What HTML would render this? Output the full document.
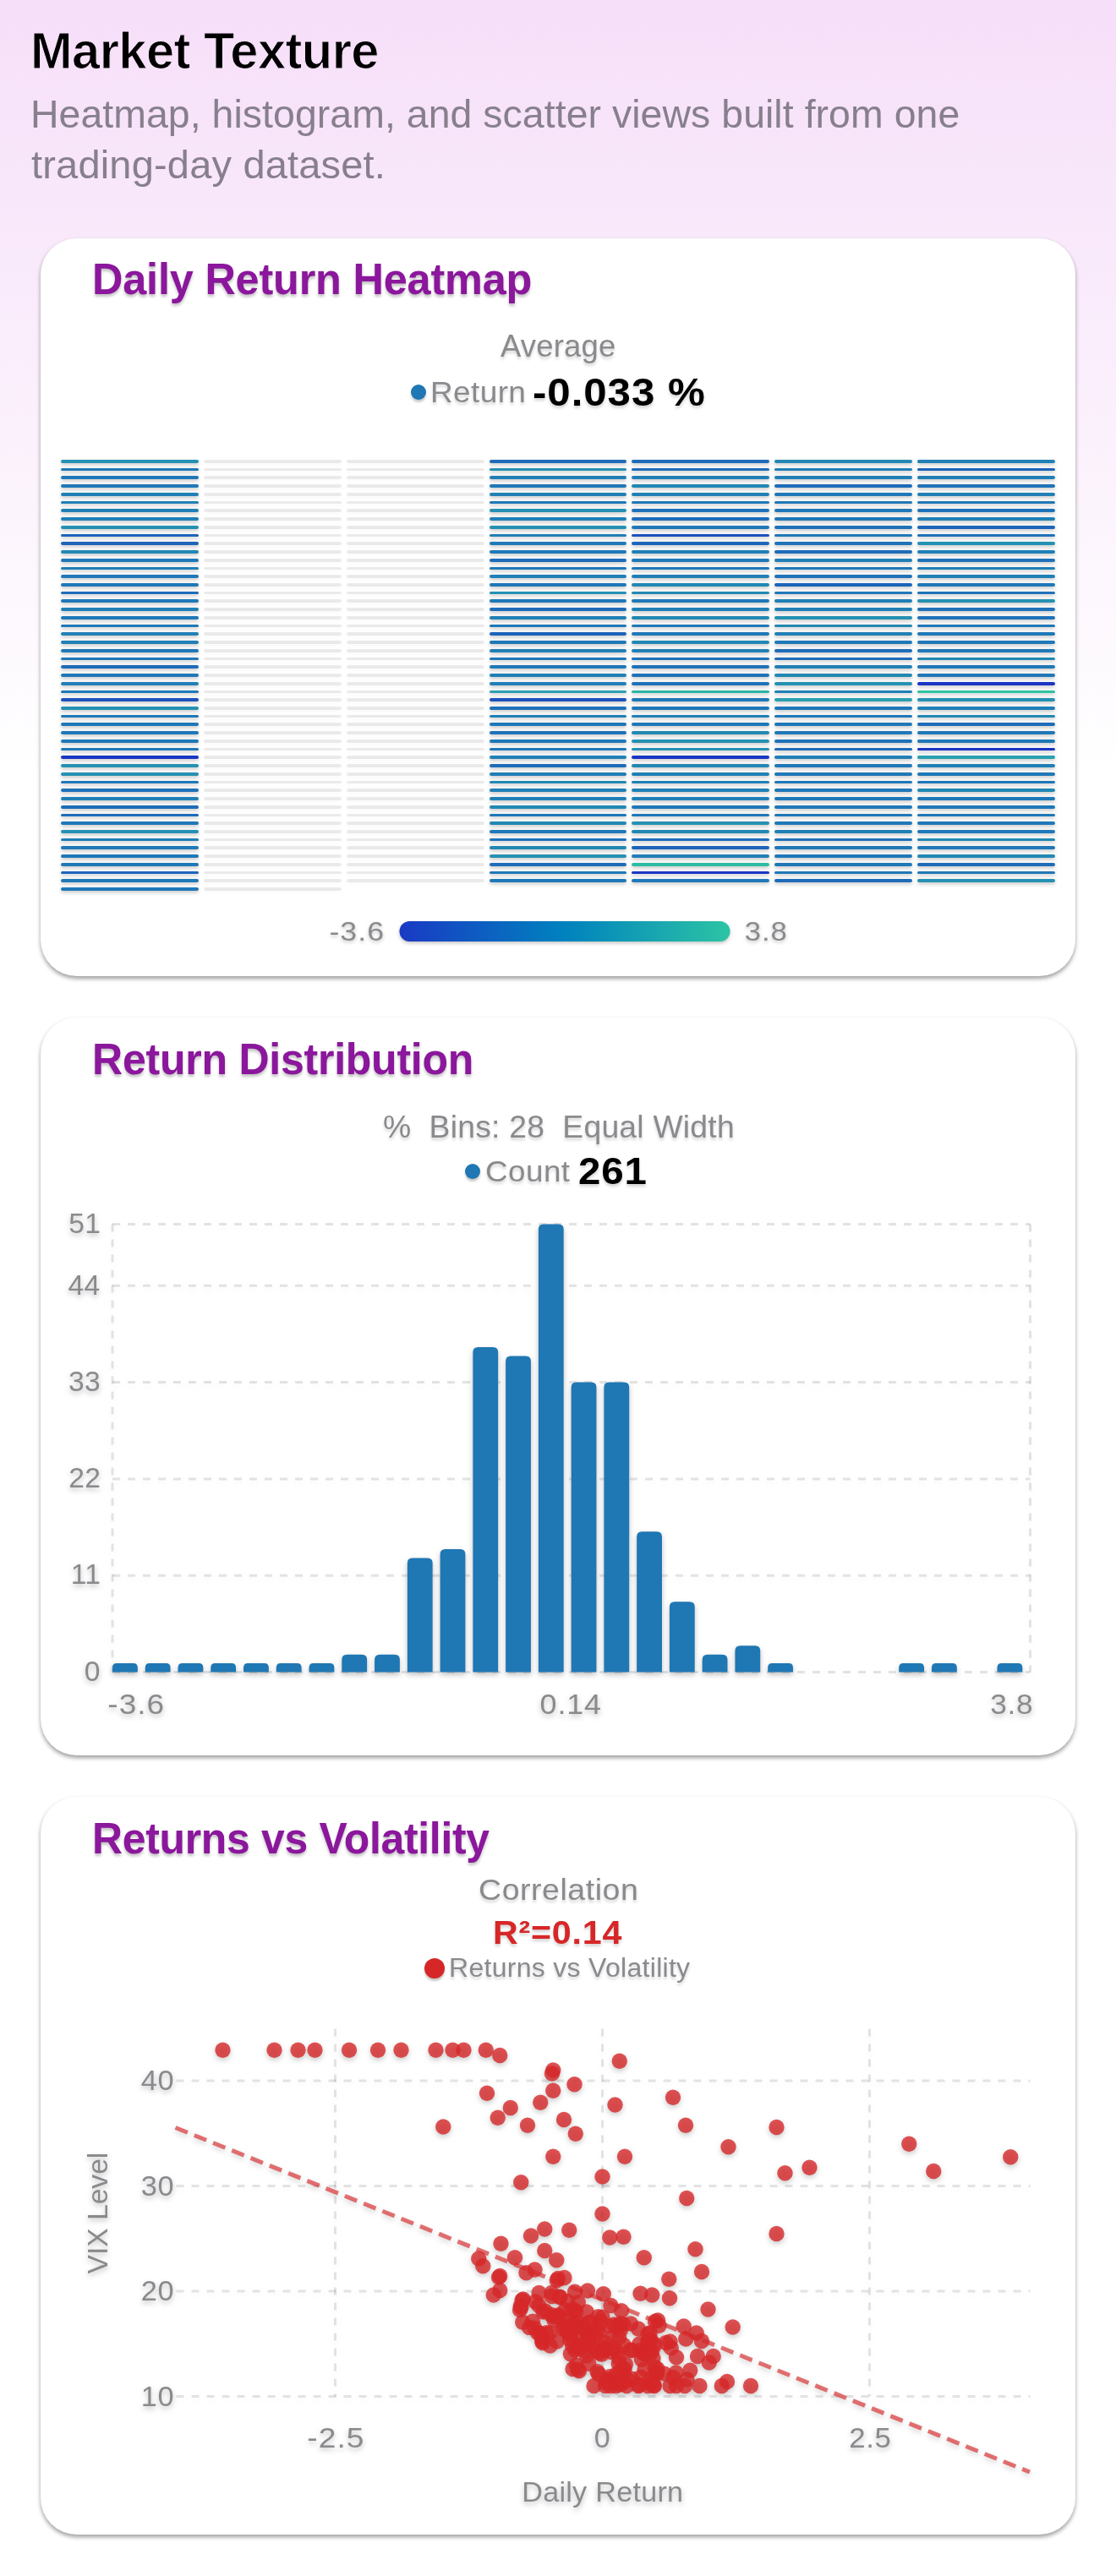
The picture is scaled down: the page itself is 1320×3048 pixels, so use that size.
<!DOCTYPE html>
<html lang="en"><head><meta charset="utf-8"><title>Market Texture</title>
<style>
html,body{margin:0;padding:0}
body{width:1320px;height:3048px;position:relative;overflow:hidden;font-family:"Liberation Sans",sans-serif;
background:linear-gradient(180deg,#f6dff9 0px,#ffffff 914px,#ffffff 3048px)}
.card{position:absolute;left:48px;width:1224px;height:873px;background:#fff;border-radius:43px;box-shadow:0 3px 5px rgba(0,0,0,.38)}
.dot{position:absolute;border-radius:50%;box-shadow:0 3px 2.5px rgba(0,0,0,.22)}
svg text{font-family:"Liberation Sans",sans-serif}
</style></head><body>
<header>
<h1 style="position:absolute;left:36.07px;top:23.00px;margin:0;font-size:62.00px;line-height:73px;font-weight:700;color:#000;letter-spacing:-0.569px;white-space:pre;transform-origin:0 0;transform:scaleX(0.9614);-webkit-text-stroke:1.1px #f7e1f9;">Market Texture</h1>
<p style="position:absolute;left:35.69px;top:107.00px;margin:0;font-size:46.10px;line-height:56px;font-weight:400;color:#877f8d;letter-spacing:0.060px;white-space:pre;transform-origin:0 0;transform:scaleX(1.0067);">Heatmap, histogram, and scatter views built from one</p>
<p style="position:absolute;left:37.29px;top:167.00px;margin:0;font-size:46.10px;line-height:56px;font-weight:400;color:#877f8d;letter-spacing:0.177px;white-space:pre;transform-origin:0 0;transform:scaleX(1.0198);">trading-day dataset.</p>
</header>
<main>
<section class="card" style="top:282px">
<h2 style="position:absolute;left:60.67px;top:18.00px;margin:0;font-size:51.30px;line-height:61px;font-weight:700;color:#8b179c;letter-spacing:-0.203px;white-space:pre;transform-origin:0 0;transform:scaleX(0.9833);text-shadow:0 3px 3.5px rgba(0,0,0,.24);">Daily Return Heatmap</h2>
<div style="position:absolute;left:544.43px;top:105.00px;margin:0;font-size:36.00px;line-height:45px;font-weight:400;color:#8a8a8e;letter-spacing:0.135px;white-space:pre;transform-origin:0 0;transform:scaleX(1.0146);text-shadow:0 3px 3.5px rgba(0,0,0,.17);">Average</div>
<span class="dot" style="left:438.25px;top:172.75px;width:18px;height:18px;background:#1f77b4"></span>
<div style="position:absolute;left:461.47px;top:160.00px;margin:0;font-size:35.30px;line-height:43px;font-weight:400;color:#8a8a8e;letter-spacing:0.385px;white-space:pre;transform-origin:0 0;transform:scaleX(1.0467);text-shadow:0 3px 3.5px rgba(0,0,0,.17);">Return</div>
<div style="position:absolute;left:582.08px;top:155.00px;margin:0;font-size:45.40px;line-height:55px;font-weight:700;color:#000;letter-spacing:0.859px;white-space:pre;transform-origin:0 0;transform:scaleX(1.0852);text-shadow:0 3px 3.5px rgba(0,0,0,.17);">-0.033 %</div>
<svg width="1224" height="873" viewBox="48 282 1224 873" style="position:absolute;left:0;top:0;overflow:visible;filter:drop-shadow(0 2.5px 2px rgba(0,0,0,.24))" font-family="Liberation Sans, sans-serif">
<rect x="72" y="544" width="163" height="4" rx="2.0" fill="#2591b2"/>
<rect x="72" y="554" width="163" height="3" rx="1.5" fill="#1f78b8"/>
<rect x="72" y="563" width="163" height="4" rx="2.0" fill="#1f78b8"/>
<rect x="72" y="573" width="163" height="4" rx="2.0" fill="#1f78b8"/>
<rect x="72" y="583" width="163" height="4" rx="2.0" fill="#2080b6"/>
<rect x="72" y="593" width="163" height="3" rx="1.5" fill="#2080b6"/>
<rect x="72" y="602" width="163" height="4" rx="2.0" fill="#2080b6"/>
<rect x="72" y="612" width="163" height="4" rx="2.0" fill="#2080b6"/>
<rect x="72" y="622" width="163" height="4" rx="2.0" fill="#2591b2"/>
<rect x="72" y="632" width="163" height="3" rx="1.5" fill="#1d64ba"/>
<rect x="72" y="641" width="163" height="4" rx="2.0" fill="#1d64ba"/>
<rect x="72" y="651" width="163" height="4" rx="2.0" fill="#2288b3"/>
<rect x="72" y="661" width="163" height="4" rx="2.0" fill="#1f78b8"/>
<rect x="72" y="671" width="163" height="3" rx="1.5" fill="#2080b6"/>
<rect x="72" y="680" width="163" height="4" rx="2.0" fill="#1f78b8"/>
<rect x="72" y="690" width="163" height="4" rx="2.0" fill="#1f78b8"/>
<rect x="72" y="700" width="163" height="3" rx="1.5" fill="#1e6cb9"/>
<rect x="72" y="709" width="163" height="4" rx="2.0" fill="#1f78b8"/>
<rect x="72" y="719" width="163" height="4" rx="2.0" fill="#2080b6"/>
<rect x="72" y="729" width="163" height="4" rx="2.0" fill="#1f78b8"/>
<rect x="72" y="739" width="163" height="3" rx="1.5" fill="#1f78b8"/>
<rect x="72" y="748" width="163" height="4" rx="2.0" fill="#2080b6"/>
<rect x="72" y="758" width="163" height="4" rx="2.0" fill="#2080b6"/>
<rect x="72" y="768" width="163" height="4" rx="2.0" fill="#1f78b8"/>
<rect x="72" y="778" width="163" height="3" rx="1.5" fill="#1f78b8"/>
<rect x="72" y="787" width="163" height="4" rx="2.0" fill="#1e6cb9"/>
<rect x="72" y="797" width="163" height="4" rx="2.0" fill="#1f78b8"/>
<rect x="72" y="807" width="163" height="4" rx="2.0" fill="#2080b6"/>
<rect x="72" y="817" width="163" height="3" rx="1.5" fill="#1f78b8"/>
<rect x="72" y="826" width="163" height="4" rx="2.0" fill="#1c52bd"/>
<rect x="72" y="836" width="163" height="4" rx="2.0" fill="#2591b2"/>
<rect x="72" y="846" width="163" height="3" rx="1.5" fill="#1f78b8"/>
<rect x="72" y="855" width="163" height="4" rx="2.0" fill="#1f78b8"/>
<rect x="72" y="865" width="163" height="4" rx="2.0" fill="#1f78b8"/>
<rect x="72" y="875" width="163" height="4" rx="2.0" fill="#1f78b8"/>
<rect x="72" y="885" width="163" height="3" rx="1.5" fill="#1f78b8"/>
<rect x="72" y="894" width="163" height="4" rx="2.0" fill="#1a36c4"/>
<rect x="72" y="904" width="163" height="4" rx="2.0" fill="#2591b2"/>
<rect x="72" y="914" width="163" height="4" rx="2.0" fill="#2591b2"/>
<rect x="72" y="924" width="163" height="3" rx="1.5" fill="#1f78b8"/>
<rect x="72" y="933" width="163" height="4" rx="2.0" fill="#1f72b9"/>
<rect x="72" y="943" width="163" height="4" rx="2.0" fill="#2080b6"/>
<rect x="72" y="953" width="163" height="4" rx="2.0" fill="#1e6cb9"/>
<rect x="72" y="963" width="163" height="3" rx="1.5" fill="#1e6cb9"/>
<rect x="72" y="972" width="163" height="4" rx="2.0" fill="#1f78b8"/>
<rect x="72" y="982" width="163" height="4" rx="2.0" fill="#2591b2"/>
<rect x="72" y="992" width="163" height="3" rx="1.5" fill="#2080b6"/>
<rect x="72" y="1001" width="163" height="4" rx="2.0" fill="#1f78b8"/>
<rect x="72" y="1011" width="163" height="4" rx="2.0" fill="#1f78b8"/>
<rect x="72" y="1021" width="163" height="4" rx="2.0" fill="#1f78b8"/>
<rect x="72" y="1031" width="163" height="3" rx="1.5" fill="#1d64ba"/>
<rect x="72" y="1040" width="163" height="4" rx="2.0" fill="#1f78b8"/>
<rect x="72" y="1050" width="163" height="4" rx="2.0" fill="#1f78b8"/>
<rect x="241" y="544" width="163" height="4" rx="2.0" fill="#000" fill-opacity=".08"/>
<rect x="241" y="554" width="163" height="3" rx="1.5" fill="#000" fill-opacity=".08"/>
<rect x="241" y="563" width="163" height="4" rx="2.0" fill="#000" fill-opacity=".08"/>
<rect x="241" y="573" width="163" height="4" rx="2.0" fill="#000" fill-opacity=".08"/>
<rect x="241" y="583" width="163" height="4" rx="2.0" fill="#000" fill-opacity=".08"/>
<rect x="241" y="593" width="163" height="3" rx="1.5" fill="#000" fill-opacity=".08"/>
<rect x="241" y="602" width="163" height="4" rx="2.0" fill="#000" fill-opacity=".08"/>
<rect x="241" y="612" width="163" height="4" rx="2.0" fill="#000" fill-opacity=".08"/>
<rect x="241" y="622" width="163" height="4" rx="2.0" fill="#000" fill-opacity=".08"/>
<rect x="241" y="632" width="163" height="3" rx="1.5" fill="#000" fill-opacity=".08"/>
<rect x="241" y="641" width="163" height="4" rx="2.0" fill="#000" fill-opacity=".08"/>
<rect x="241" y="651" width="163" height="4" rx="2.0" fill="#000" fill-opacity=".08"/>
<rect x="241" y="661" width="163" height="4" rx="2.0" fill="#000" fill-opacity=".08"/>
<rect x="241" y="671" width="163" height="3" rx="1.5" fill="#000" fill-opacity=".08"/>
<rect x="241" y="680" width="163" height="4" rx="2.0" fill="#000" fill-opacity=".08"/>
<rect x="241" y="690" width="163" height="4" rx="2.0" fill="#000" fill-opacity=".08"/>
<rect x="241" y="700" width="163" height="3" rx="1.5" fill="#000" fill-opacity=".08"/>
<rect x="241" y="709" width="163" height="4" rx="2.0" fill="#000" fill-opacity=".08"/>
<rect x="241" y="719" width="163" height="4" rx="2.0" fill="#000" fill-opacity=".08"/>
<rect x="241" y="729" width="163" height="4" rx="2.0" fill="#000" fill-opacity=".08"/>
<rect x="241" y="739" width="163" height="3" rx="1.5" fill="#000" fill-opacity=".08"/>
<rect x="241" y="748" width="163" height="4" rx="2.0" fill="#000" fill-opacity=".08"/>
<rect x="241" y="758" width="163" height="4" rx="2.0" fill="#000" fill-opacity=".08"/>
<rect x="241" y="768" width="163" height="4" rx="2.0" fill="#000" fill-opacity=".08"/>
<rect x="241" y="778" width="163" height="3" rx="1.5" fill="#000" fill-opacity=".08"/>
<rect x="241" y="787" width="163" height="4" rx="2.0" fill="#000" fill-opacity=".08"/>
<rect x="241" y="797" width="163" height="4" rx="2.0" fill="#000" fill-opacity=".08"/>
<rect x="241" y="807" width="163" height="4" rx="2.0" fill="#000" fill-opacity=".08"/>
<rect x="241" y="817" width="163" height="3" rx="1.5" fill="#000" fill-opacity=".08"/>
<rect x="241" y="826" width="163" height="4" rx="2.0" fill="#000" fill-opacity=".08"/>
<rect x="241" y="836" width="163" height="4" rx="2.0" fill="#000" fill-opacity=".08"/>
<rect x="241" y="846" width="163" height="3" rx="1.5" fill="#000" fill-opacity=".08"/>
<rect x="241" y="855" width="163" height="4" rx="2.0" fill="#000" fill-opacity=".08"/>
<rect x="241" y="865" width="163" height="4" rx="2.0" fill="#000" fill-opacity=".08"/>
<rect x="241" y="875" width="163" height="4" rx="2.0" fill="#000" fill-opacity=".08"/>
<rect x="241" y="885" width="163" height="3" rx="1.5" fill="#000" fill-opacity=".08"/>
<rect x="241" y="894" width="163" height="4" rx="2.0" fill="#000" fill-opacity=".08"/>
<rect x="241" y="904" width="163" height="4" rx="2.0" fill="#000" fill-opacity=".08"/>
<rect x="241" y="914" width="163" height="4" rx="2.0" fill="#000" fill-opacity=".08"/>
<rect x="241" y="924" width="163" height="3" rx="1.5" fill="#000" fill-opacity=".08"/>
<rect x="241" y="933" width="163" height="4" rx="2.0" fill="#000" fill-opacity=".08"/>
<rect x="241" y="943" width="163" height="4" rx="2.0" fill="#000" fill-opacity=".08"/>
<rect x="241" y="953" width="163" height="4" rx="2.0" fill="#000" fill-opacity=".08"/>
<rect x="241" y="963" width="163" height="3" rx="1.5" fill="#000" fill-opacity=".08"/>
<rect x="241" y="972" width="163" height="4" rx="2.0" fill="#000" fill-opacity=".08"/>
<rect x="241" y="982" width="163" height="4" rx="2.0" fill="#000" fill-opacity=".08"/>
<rect x="241" y="992" width="163" height="3" rx="1.5" fill="#000" fill-opacity=".08"/>
<rect x="241" y="1001" width="163" height="4" rx="2.0" fill="#000" fill-opacity=".08"/>
<rect x="241" y="1011" width="163" height="4" rx="2.0" fill="#000" fill-opacity=".08"/>
<rect x="241" y="1021" width="163" height="4" rx="2.0" fill="#000" fill-opacity=".08"/>
<rect x="241" y="1031" width="163" height="3" rx="1.5" fill="#000" fill-opacity=".08"/>
<rect x="241" y="1040" width="163" height="4" rx="2.0" fill="#000" fill-opacity=".08"/>
<rect x="241" y="1050" width="163" height="4" rx="2.0" fill="#000" fill-opacity=".08"/>
<rect x="410" y="544" width="163" height="4" rx="2.0" fill="#000" fill-opacity=".08"/>
<rect x="410" y="554" width="163" height="3" rx="1.5" fill="#000" fill-opacity=".08"/>
<rect x="410" y="563" width="163" height="4" rx="2.0" fill="#000" fill-opacity=".08"/>
<rect x="410" y="573" width="163" height="4" rx="2.0" fill="#000" fill-opacity=".08"/>
<rect x="410" y="583" width="163" height="4" rx="2.0" fill="#000" fill-opacity=".08"/>
<rect x="410" y="593" width="163" height="3" rx="1.5" fill="#000" fill-opacity=".08"/>
<rect x="410" y="602" width="163" height="4" rx="2.0" fill="#000" fill-opacity=".08"/>
<rect x="410" y="612" width="163" height="4" rx="2.0" fill="#000" fill-opacity=".08"/>
<rect x="410" y="622" width="163" height="4" rx="2.0" fill="#000" fill-opacity=".08"/>
<rect x="410" y="632" width="163" height="3" rx="1.5" fill="#000" fill-opacity=".08"/>
<rect x="410" y="641" width="163" height="4" rx="2.0" fill="#000" fill-opacity=".08"/>
<rect x="410" y="651" width="163" height="4" rx="2.0" fill="#000" fill-opacity=".08"/>
<rect x="410" y="661" width="163" height="4" rx="2.0" fill="#000" fill-opacity=".08"/>
<rect x="410" y="671" width="163" height="3" rx="1.5" fill="#000" fill-opacity=".08"/>
<rect x="410" y="680" width="163" height="4" rx="2.0" fill="#000" fill-opacity=".08"/>
<rect x="410" y="690" width="163" height="4" rx="2.0" fill="#000" fill-opacity=".08"/>
<rect x="410" y="700" width="163" height="3" rx="1.5" fill="#000" fill-opacity=".08"/>
<rect x="410" y="709" width="163" height="4" rx="2.0" fill="#000" fill-opacity=".08"/>
<rect x="410" y="719" width="163" height="4" rx="2.0" fill="#000" fill-opacity=".08"/>
<rect x="410" y="729" width="163" height="4" rx="2.0" fill="#000" fill-opacity=".08"/>
<rect x="410" y="739" width="163" height="3" rx="1.5" fill="#000" fill-opacity=".08"/>
<rect x="410" y="748" width="163" height="4" rx="2.0" fill="#000" fill-opacity=".08"/>
<rect x="410" y="758" width="163" height="4" rx="2.0" fill="#000" fill-opacity=".08"/>
<rect x="410" y="768" width="163" height="4" rx="2.0" fill="#000" fill-opacity=".08"/>
<rect x="410" y="778" width="163" height="3" rx="1.5" fill="#000" fill-opacity=".08"/>
<rect x="410" y="787" width="163" height="4" rx="2.0" fill="#000" fill-opacity=".08"/>
<rect x="410" y="797" width="163" height="4" rx="2.0" fill="#000" fill-opacity=".08"/>
<rect x="410" y="807" width="163" height="4" rx="2.0" fill="#000" fill-opacity=".08"/>
<rect x="410" y="817" width="163" height="3" rx="1.5" fill="#000" fill-opacity=".08"/>
<rect x="410" y="826" width="163" height="4" rx="2.0" fill="#000" fill-opacity=".08"/>
<rect x="410" y="836" width="163" height="4" rx="2.0" fill="#000" fill-opacity=".08"/>
<rect x="410" y="846" width="163" height="3" rx="1.5" fill="#000" fill-opacity=".08"/>
<rect x="410" y="855" width="163" height="4" rx="2.0" fill="#000" fill-opacity=".08"/>
<rect x="410" y="865" width="163" height="4" rx="2.0" fill="#000" fill-opacity=".08"/>
<rect x="410" y="875" width="163" height="4" rx="2.0" fill="#000" fill-opacity=".08"/>
<rect x="410" y="885" width="163" height="3" rx="1.5" fill="#000" fill-opacity=".08"/>
<rect x="410" y="894" width="163" height="4" rx="2.0" fill="#000" fill-opacity=".08"/>
<rect x="410" y="904" width="163" height="4" rx="2.0" fill="#000" fill-opacity=".08"/>
<rect x="410" y="914" width="163" height="4" rx="2.0" fill="#000" fill-opacity=".08"/>
<rect x="410" y="924" width="163" height="3" rx="1.5" fill="#000" fill-opacity=".08"/>
<rect x="410" y="933" width="163" height="4" rx="2.0" fill="#000" fill-opacity=".08"/>
<rect x="410" y="943" width="163" height="4" rx="2.0" fill="#000" fill-opacity=".08"/>
<rect x="410" y="953" width="163" height="4" rx="2.0" fill="#000" fill-opacity=".08"/>
<rect x="410" y="963" width="163" height="3" rx="1.5" fill="#000" fill-opacity=".08"/>
<rect x="410" y="972" width="163" height="4" rx="2.0" fill="#000" fill-opacity=".08"/>
<rect x="410" y="982" width="163" height="4" rx="2.0" fill="#000" fill-opacity=".08"/>
<rect x="410" y="992" width="163" height="3" rx="1.5" fill="#000" fill-opacity=".08"/>
<rect x="410" y="1001" width="163" height="4" rx="2.0" fill="#000" fill-opacity=".08"/>
<rect x="410" y="1011" width="163" height="4" rx="2.0" fill="#000" fill-opacity=".08"/>
<rect x="410" y="1021" width="163" height="4" rx="2.0" fill="#000" fill-opacity=".08"/>
<rect x="410" y="1031" width="163" height="3" rx="1.5" fill="#000" fill-opacity=".08"/>
<rect x="410" y="1040" width="163" height="4" rx="2.0" fill="#000" fill-opacity=".08"/>
<rect x="579" y="544" width="162" height="4" rx="2.0" fill="#1e6cb9"/>
<rect x="579" y="554" width="162" height="3" rx="1.5" fill="#2591b2"/>
<rect x="579" y="563" width="162" height="4" rx="2.0" fill="#2080b6"/>
<rect x="579" y="573" width="162" height="4" rx="2.0" fill="#1f78b8"/>
<rect x="579" y="583" width="162" height="4" rx="2.0" fill="#2080b6"/>
<rect x="579" y="593" width="162" height="3" rx="1.5" fill="#1f78b8"/>
<rect x="579" y="602" width="162" height="4" rx="2.0" fill="#2591b2"/>
<rect x="579" y="612" width="162" height="4" rx="2.0" fill="#2080b6"/>
<rect x="579" y="622" width="162" height="4" rx="2.0" fill="#2591b2"/>
<rect x="579" y="632" width="162" height="3" rx="1.5" fill="#2080b6"/>
<rect x="579" y="641" width="162" height="4" rx="2.0" fill="#1f78b8"/>
<rect x="579" y="651" width="162" height="4" rx="2.0" fill="#1f78b8"/>
<rect x="579" y="661" width="162" height="4" rx="2.0" fill="#1e6cb9"/>
<rect x="579" y="671" width="162" height="3" rx="1.5" fill="#1f78b8"/>
<rect x="579" y="680" width="162" height="4" rx="2.0" fill="#2080b6"/>
<rect x="579" y="690" width="162" height="4" rx="2.0" fill="#1f78b8"/>
<rect x="579" y="700" width="162" height="3" rx="1.5" fill="#2591b2"/>
<rect x="579" y="709" width="162" height="4" rx="2.0" fill="#1f78b8"/>
<rect x="579" y="719" width="162" height="4" rx="2.0" fill="#1e6cb9"/>
<rect x="579" y="729" width="162" height="4" rx="2.0" fill="#2080b6"/>
<rect x="579" y="739" width="162" height="3" rx="1.5" fill="#1f78b8"/>
<rect x="579" y="748" width="162" height="4" rx="2.0" fill="#1d64ba"/>
<rect x="579" y="758" width="162" height="4" rx="2.0" fill="#1f78b8"/>
<rect x="579" y="768" width="162" height="4" rx="2.0" fill="#2080b6"/>
<rect x="579" y="778" width="162" height="3" rx="1.5" fill="#1f78b8"/>
<rect x="579" y="787" width="162" height="4" rx="2.0" fill="#1f78b8"/>
<rect x="579" y="797" width="162" height="4" rx="2.0" fill="#2080b6"/>
<rect x="579" y="807" width="162" height="4" rx="2.0" fill="#2080b6"/>
<rect x="579" y="817" width="162" height="3" rx="1.5" fill="#2aa0b0"/>
<rect x="579" y="826" width="162" height="4" rx="2.0" fill="#1c52bd"/>
<rect x="579" y="836" width="162" height="4" rx="2.0" fill="#1f72b9"/>
<rect x="579" y="846" width="162" height="3" rx="1.5" fill="#2080b6"/>
<rect x="579" y="855" width="162" height="4" rx="2.0" fill="#1f78b8"/>
<rect x="579" y="865" width="162" height="4" rx="2.0" fill="#1f72b9"/>
<rect x="579" y="875" width="162" height="4" rx="2.0" fill="#1f78b8"/>
<rect x="579" y="885" width="162" height="3" rx="1.5" fill="#1f78b8"/>
<rect x="579" y="894" width="162" height="4" rx="2.0" fill="#2080b6"/>
<rect x="579" y="904" width="162" height="4" rx="2.0" fill="#1e6cb9"/>
<rect x="579" y="914" width="162" height="4" rx="2.0" fill="#2080b6"/>
<rect x="579" y="924" width="162" height="3" rx="1.5" fill="#2288b3"/>
<rect x="579" y="933" width="162" height="4" rx="2.0" fill="#2080b6"/>
<rect x="579" y="943" width="162" height="4" rx="2.0" fill="#2080b6"/>
<rect x="579" y="953" width="162" height="4" rx="2.0" fill="#2288b3"/>
<rect x="579" y="963" width="162" height="3" rx="1.5" fill="#1f78b8"/>
<rect x="579" y="972" width="162" height="4" rx="2.0" fill="#2288b3"/>
<rect x="579" y="982" width="162" height="4" rx="2.0" fill="#1f78b8"/>
<rect x="579" y="992" width="162" height="3" rx="1.5" fill="#1f72b9"/>
<rect x="579" y="1001" width="162" height="4" rx="2.0" fill="#2288b3"/>
<rect x="579" y="1011" width="162" height="4" rx="2.0" fill="#2591b2"/>
<rect x="579" y="1021" width="162" height="4" rx="2.0" fill="#1e6cb9"/>
<rect x="579" y="1031" width="162" height="3" rx="1.5" fill="#1f78b8"/>
<rect x="579" y="1040" width="162" height="4" rx="2.0" fill="#1f78b8"/>
<rect x="747" y="544" width="163" height="4" rx="2.0" fill="#1e6cb9"/>
<rect x="747" y="554" width="163" height="3" rx="1.5" fill="#1e6cb9"/>
<rect x="747" y="563" width="163" height="4" rx="2.0" fill="#2080b6"/>
<rect x="747" y="573" width="163" height="4" rx="2.0" fill="#2288b3"/>
<rect x="747" y="583" width="163" height="4" rx="2.0" fill="#2080b6"/>
<rect x="747" y="593" width="163" height="3" rx="1.5" fill="#1f78b8"/>
<rect x="747" y="602" width="163" height="4" rx="2.0" fill="#1f72b9"/>
<rect x="747" y="612" width="163" height="4" rx="2.0" fill="#1e6cb9"/>
<rect x="747" y="622" width="163" height="4" rx="2.0" fill="#1f78b8"/>
<rect x="747" y="632" width="163" height="3" rx="1.5" fill="#1c52bd"/>
<rect x="747" y="641" width="163" height="4" rx="2.0" fill="#1d64ba"/>
<rect x="747" y="651" width="163" height="4" rx="2.0" fill="#2080b6"/>
<rect x="747" y="661" width="163" height="4" rx="2.0" fill="#1f78b8"/>
<rect x="747" y="671" width="163" height="3" rx="1.5" fill="#1f78b8"/>
<rect x="747" y="680" width="163" height="4" rx="2.0" fill="#2080b6"/>
<rect x="747" y="690" width="163" height="4" rx="2.0" fill="#2288b3"/>
<rect x="747" y="700" width="163" height="3" rx="1.5" fill="#2288b3"/>
<rect x="747" y="709" width="163" height="4" rx="2.0" fill="#1f78b8"/>
<rect x="747" y="719" width="163" height="4" rx="2.0" fill="#2080b6"/>
<rect x="747" y="729" width="163" height="4" rx="2.0" fill="#2288b3"/>
<rect x="747" y="739" width="163" height="3" rx="1.5" fill="#1f78b8"/>
<rect x="747" y="748" width="163" height="4" rx="2.0" fill="#1f78b8"/>
<rect x="747" y="758" width="163" height="4" rx="2.0" fill="#2288b3"/>
<rect x="747" y="768" width="163" height="4" rx="2.0" fill="#2080b6"/>
<rect x="747" y="778" width="163" height="3" rx="1.5" fill="#1f72b9"/>
<rect x="747" y="787" width="163" height="4" rx="2.0" fill="#1f72b9"/>
<rect x="747" y="797" width="163" height="4" rx="2.0" fill="#1f72b9"/>
<rect x="747" y="807" width="163" height="4" rx="2.0" fill="#1f72b9"/>
<rect x="747" y="817" width="163" height="3" rx="1.5" fill="#2ab4a6"/>
<rect x="747" y="826" width="163" height="4" rx="2.0" fill="#1f78b8"/>
<rect x="747" y="836" width="163" height="4" rx="2.0" fill="#1f78b8"/>
<rect x="747" y="846" width="163" height="3" rx="1.5" fill="#2080b6"/>
<rect x="747" y="855" width="163" height="4" rx="2.0" fill="#1f78b8"/>
<rect x="747" y="865" width="163" height="4" rx="2.0" fill="#2288b3"/>
<rect x="747" y="875" width="163" height="4" rx="2.0" fill="#2591b2"/>
<rect x="747" y="885" width="163" height="3" rx="1.5" fill="#2591b2"/>
<rect x="747" y="894" width="163" height="4" rx="2.0" fill="#1a36c4"/>
<rect x="747" y="904" width="163" height="4" rx="2.0" fill="#2288b3"/>
<rect x="747" y="914" width="163" height="4" rx="2.0" fill="#2080b6"/>
<rect x="747" y="924" width="163" height="3" rx="1.5" fill="#2080b6"/>
<rect x="747" y="933" width="163" height="4" rx="2.0" fill="#2080b6"/>
<rect x="747" y="943" width="163" height="4" rx="2.0" fill="#2080b6"/>
<rect x="747" y="953" width="163" height="4" rx="2.0" fill="#1f78b8"/>
<rect x="747" y="963" width="163" height="3" rx="1.5" fill="#1f78b8"/>
<rect x="747" y="972" width="163" height="4" rx="2.0" fill="#2591b2"/>
<rect x="747" y="982" width="163" height="4" rx="2.0" fill="#2288b3"/>
<rect x="747" y="992" width="163" height="3" rx="1.5" fill="#1e6cb9"/>
<rect x="747" y="1001" width="163" height="4" rx="2.0" fill="#1d64ba"/>
<rect x="747" y="1011" width="163" height="4" rx="2.0" fill="#2080b6"/>
<rect x="747" y="1021" width="163" height="4" rx="2.0" fill="#2bbda3"/>
<rect x="747" y="1031" width="163" height="3" rx="1.5" fill="#1a36c4"/>
<rect x="747" y="1040" width="163" height="4" rx="2.0" fill="#1f78b8"/>
<rect x="916" y="544" width="163" height="4" rx="2.0" fill="#2288b3"/>
<rect x="916" y="554" width="163" height="3" rx="1.5" fill="#2080b6"/>
<rect x="916" y="563" width="163" height="4" rx="2.0" fill="#2080b6"/>
<rect x="916" y="573" width="163" height="4" rx="2.0" fill="#1e6cb9"/>
<rect x="916" y="583" width="163" height="4" rx="2.0" fill="#1f78b8"/>
<rect x="916" y="593" width="163" height="3" rx="1.5" fill="#1f78b8"/>
<rect x="916" y="602" width="163" height="4" rx="2.0" fill="#1f78b8"/>
<rect x="916" y="612" width="163" height="4" rx="2.0" fill="#1f78b8"/>
<rect x="916" y="622" width="163" height="4" rx="2.0" fill="#1f72b9"/>
<rect x="916" y="632" width="163" height="3" rx="1.5" fill="#1f78b8"/>
<rect x="916" y="641" width="163" height="4" rx="2.0" fill="#1f72b9"/>
<rect x="916" y="651" width="163" height="4" rx="2.0" fill="#1e6cb9"/>
<rect x="916" y="661" width="163" height="4" rx="2.0" fill="#2080b6"/>
<rect x="916" y="671" width="163" height="3" rx="1.5" fill="#1f78b8"/>
<rect x="916" y="680" width="163" height="4" rx="2.0" fill="#1f72b9"/>
<rect x="916" y="690" width="163" height="4" rx="2.0" fill="#1d64ba"/>
<rect x="916" y="700" width="163" height="3" rx="1.5" fill="#1f78b8"/>
<rect x="916" y="709" width="163" height="4" rx="2.0" fill="#2080b6"/>
<rect x="916" y="719" width="163" height="4" rx="2.0" fill="#2080b6"/>
<rect x="916" y="729" width="163" height="4" rx="2.0" fill="#2591b2"/>
<rect x="916" y="739" width="163" height="3" rx="1.5" fill="#2288b3"/>
<rect x="916" y="748" width="163" height="4" rx="2.0" fill="#2080b6"/>
<rect x="916" y="758" width="163" height="4" rx="2.0" fill="#1f78b8"/>
<rect x="916" y="768" width="163" height="4" rx="2.0" fill="#1e6cb9"/>
<rect x="916" y="778" width="163" height="3" rx="1.5" fill="#1e6cb9"/>
<rect x="916" y="787" width="163" height="4" rx="2.0" fill="#2080b6"/>
<rect x="916" y="797" width="163" height="4" rx="2.0" fill="#2288b3"/>
<rect x="916" y="807" width="163" height="4" rx="2.0" fill="#2591b2"/>
<rect x="916" y="817" width="163" height="3" rx="1.5" fill="#2080b6"/>
<rect x="916" y="826" width="163" height="4" rx="2.0" fill="#2aa0b0"/>
<rect x="916" y="836" width="163" height="4" rx="2.0" fill="#1f78b8"/>
<rect x="916" y="846" width="163" height="3" rx="1.5" fill="#1f78b8"/>
<rect x="916" y="855" width="163" height="4" rx="2.0" fill="#1f78b8"/>
<rect x="916" y="865" width="163" height="4" rx="2.0" fill="#1f78b8"/>
<rect x="916" y="875" width="163" height="4" rx="2.0" fill="#1f72b9"/>
<rect x="916" y="885" width="163" height="3" rx="1.5" fill="#1e6cb9"/>
<rect x="916" y="894" width="163" height="4" rx="2.0" fill="#2080b6"/>
<rect x="916" y="904" width="163" height="4" rx="2.0" fill="#1f78b8"/>
<rect x="916" y="914" width="163" height="4" rx="2.0" fill="#1f78b8"/>
<rect x="916" y="924" width="163" height="3" rx="1.5" fill="#1f78b8"/>
<rect x="916" y="933" width="163" height="4" rx="2.0" fill="#1f78b8"/>
<rect x="916" y="943" width="163" height="4" rx="2.0" fill="#1f78b8"/>
<rect x="916" y="953" width="163" height="4" rx="2.0" fill="#1f78b8"/>
<rect x="916" y="963" width="163" height="3" rx="1.5" fill="#1f78b8"/>
<rect x="916" y="972" width="163" height="4" rx="2.0" fill="#1f78b8"/>
<rect x="916" y="982" width="163" height="4" rx="2.0" fill="#2080b6"/>
<rect x="916" y="992" width="163" height="3" rx="1.5" fill="#1f72b9"/>
<rect x="916" y="1001" width="163" height="4" rx="2.0" fill="#1f78b8"/>
<rect x="916" y="1011" width="163" height="4" rx="2.0" fill="#1f78b8"/>
<rect x="916" y="1021" width="163" height="4" rx="2.0" fill="#1f78b8"/>
<rect x="916" y="1031" width="163" height="3" rx="1.5" fill="#1f78b8"/>
<rect x="916" y="1040" width="163" height="4" rx="2.0" fill="#1e6cb9"/>
<rect x="1085" y="544" width="163" height="4" rx="2.0" fill="#2080b6"/>
<rect x="1085" y="554" width="163" height="3" rx="1.5" fill="#1d64ba"/>
<rect x="1085" y="563" width="163" height="4" rx="2.0" fill="#2080b6"/>
<rect x="1085" y="573" width="163" height="4" rx="2.0" fill="#1f72b9"/>
<rect x="1085" y="583" width="163" height="4" rx="2.0" fill="#2080b6"/>
<rect x="1085" y="593" width="163" height="3" rx="1.5" fill="#1f78b8"/>
<rect x="1085" y="602" width="163" height="4" rx="2.0" fill="#1f72b9"/>
<rect x="1085" y="612" width="163" height="4" rx="2.0" fill="#2080b6"/>
<rect x="1085" y="622" width="163" height="4" rx="2.0" fill="#1d64ba"/>
<rect x="1085" y="632" width="163" height="3" rx="1.5" fill="#1f72b9"/>
<rect x="1085" y="641" width="163" height="4" rx="2.0" fill="#2591b2"/>
<rect x="1085" y="651" width="163" height="4" rx="2.0" fill="#2080b6"/>
<rect x="1085" y="661" width="163" height="4" rx="2.0" fill="#1f72b9"/>
<rect x="1085" y="671" width="163" height="3" rx="1.5" fill="#2080b6"/>
<rect x="1085" y="680" width="163" height="4" rx="2.0" fill="#2080b6"/>
<rect x="1085" y="690" width="163" height="4" rx="2.0" fill="#1f78b8"/>
<rect x="1085" y="700" width="163" height="3" rx="1.5" fill="#1f72b9"/>
<rect x="1085" y="709" width="163" height="4" rx="2.0" fill="#2591b2"/>
<rect x="1085" y="719" width="163" height="4" rx="2.0" fill="#1f72b9"/>
<rect x="1085" y="729" width="163" height="4" rx="2.0" fill="#1f72b9"/>
<rect x="1085" y="739" width="163" height="3" rx="1.5" fill="#1f78b8"/>
<rect x="1085" y="748" width="163" height="4" rx="2.0" fill="#1f78b8"/>
<rect x="1085" y="758" width="163" height="4" rx="2.0" fill="#1f78b8"/>
<rect x="1085" y="768" width="163" height="4" rx="2.0" fill="#1f78b8"/>
<rect x="1085" y="778" width="163" height="3" rx="1.5" fill="#2288b3"/>
<rect x="1085" y="787" width="163" height="4" rx="2.0" fill="#1f78b8"/>
<rect x="1085" y="797" width="163" height="4" rx="2.0" fill="#1f78b8"/>
<rect x="1085" y="807" width="163" height="4" rx="2.0" fill="#1a36c4"/>
<rect x="1085" y="817" width="163" height="3" rx="1.5" fill="#2dc4a1"/>
<rect x="1085" y="826" width="163" height="4" rx="2.0" fill="#2591b2"/>
<rect x="1085" y="836" width="163" height="4" rx="2.0" fill="#2080b6"/>
<rect x="1085" y="846" width="163" height="3" rx="1.5" fill="#2288b3"/>
<rect x="1085" y="855" width="163" height="4" rx="2.0" fill="#1e6cb9"/>
<rect x="1085" y="865" width="163" height="4" rx="2.0" fill="#1f78b8"/>
<rect x="1085" y="875" width="163" height="4" rx="2.0" fill="#1f78b8"/>
<rect x="1085" y="885" width="163" height="3" rx="1.5" fill="#1a36c4"/>
<rect x="1085" y="894" width="163" height="4" rx="2.0" fill="#2aa0b0"/>
<rect x="1085" y="904" width="163" height="4" rx="2.0" fill="#2080b6"/>
<rect x="1085" y="914" width="163" height="4" rx="2.0" fill="#1f78b8"/>
<rect x="1085" y="924" width="163" height="3" rx="1.5" fill="#1f78b8"/>
<rect x="1085" y="933" width="163" height="4" rx="2.0" fill="#2288b3"/>
<rect x="1085" y="943" width="163" height="4" rx="2.0" fill="#1f78b8"/>
<rect x="1085" y="953" width="163" height="4" rx="2.0" fill="#1f78b8"/>
<rect x="1085" y="963" width="163" height="3" rx="1.5" fill="#1f78b8"/>
<rect x="1085" y="972" width="163" height="4" rx="2.0" fill="#1f78b8"/>
<rect x="1085" y="982" width="163" height="4" rx="2.0" fill="#1f78b8"/>
<rect x="1085" y="992" width="163" height="3" rx="1.5" fill="#2288b3"/>
<rect x="1085" y="1001" width="163" height="4" rx="2.0" fill="#1f78b8"/>
<rect x="1085" y="1011" width="163" height="4" rx="2.0" fill="#2288b3"/>
<rect x="1085" y="1021" width="163" height="4" rx="2.0" fill="#1e6cb9"/>
<rect x="1085" y="1031" width="163" height="3" rx="1.5" fill="#1f78b8"/>
<rect x="1085" y="1040" width="163" height="4" rx="2.0" fill="#2591b2"/>
<defs><linearGradient id="hg" x1="0" x2="1" y1="0" y2="0"><stop offset="0" stop-color="#1a3ac4"/><stop offset=".5" stop-color="#0082be"/><stop offset="1" stop-color="#2cc4a4"/></linearGradient></defs>
<rect x="472.5" y="1090" width="391" height="24" rx="12" fill="url(#hg)"/>
<text transform="translate(389.43 1113.00) scale(1.1354 1)" font-size="31.50" font-weight="400" letter-spacing="0.878" fill="#8a8a8e" xml:space="preserve">-3.6</text>
<text transform="translate(880.68 1113.00) scale(1.1064 1)" font-size="31.50" font-weight="400" letter-spacing="0.850" fill="#8a8a8e" xml:space="preserve">3.8</text>
</svg>
</section>
<section class="card" style="top:1204px">
<h2 style="position:absolute;left:60.70px;top:19.00px;margin:0;font-size:51.30px;line-height:61px;font-weight:700;color:#8b179c;letter-spacing:-0.270px;white-space:pre;transform-origin:0 0;transform:scaleX(0.9760);text-shadow:0 3px 3.5px rgba(0,0,0,.24);">Return Distribution</h2>
<div style="position:absolute;left:404.69px;top:107.00px;margin:0;font-size:36.30px;line-height:45px;font-weight:400;color:#8a8a8e;letter-spacing:0.204px;white-space:pre;transform-origin:0 0;transform:scaleX(1.0285);text-shadow:0 3px 3.5px rgba(0,0,0,.17);">%  Bins: 28  Equal Width</div>
<span class="dot" style="left:502.00px;top:173.00px;width:18px;height:18px;background:#1f77b4"></span>
<div style="position:absolute;left:526.16px;top:160.00px;margin:0;font-size:35.30px;line-height:43px;font-weight:400;color:#8a8a8e;letter-spacing:0.416px;white-space:pre;transform-origin:0 0;transform:scaleX(1.0440);text-shadow:0 3px 3.5px rgba(0,0,0,.17);">Count</div>
<div style="position:absolute;left:636.39px;top:154.00px;margin:0;font-size:45.00px;line-height:55px;font-weight:700;color:#000;letter-spacing:0.808px;white-space:pre;transform-origin:0 0;transform:scaleX(1.0550);text-shadow:0 3px 3.5px rgba(0,0,0,.17);">261</div>
<svg width="1224" height="873" viewBox="48 1204 1224 873" style="position:absolute;left:0;top:0;overflow:visible;filter:drop-shadow(0 3px 3px rgba(0,0,0,.25))" font-family="Liberation Sans, sans-serif">
<g stroke="#000" stroke-opacity=".11" stroke-width="3" stroke-dasharray="9 9" fill="none">
<line x1="133.0" y1="1448.5" x2="1218.5" y2="1448.5"/>
<line x1="133.0" y1="1521.3" x2="1218.5" y2="1521.3"/>
<line x1="133.0" y1="1635.6" x2="1218.5" y2="1635.6"/>
<line x1="133.0" y1="1749.9" x2="1218.5" y2="1749.9"/>
<line x1="133.0" y1="1864.2" x2="1218.5" y2="1864.2"/>
<line x1="133.0" y1="1978.5" x2="1218.5" y2="1978.5"/>
<line x1="133.0" y1="1448.508" x2="133.0" y2="1978.5"/>
<line x1="1218.5" y1="1448.508" x2="1218.5" y2="1978.5"/>
</g>
<path d="M133.00 1978.5V1973.30q0 -5.196 5.196 -5.196h19.408q5.196 0 5.196 5.196V1978.5z" fill="#1f77b4"/>
<path d="M171.76 1978.5V1973.30q0 -5.196 5.196 -5.196h19.408q5.196 0 5.196 5.196V1978.5z" fill="#1f77b4"/>
<path d="M210.52 1978.5V1973.30q0 -5.196 5.196 -5.196h19.408q5.196 0 5.196 5.196V1978.5z" fill="#1f77b4"/>
<path d="M249.28 1978.5V1973.30q0 -5.196 5.196 -5.196h19.408q5.196 0 5.196 5.196V1978.5z" fill="#1f77b4"/>
<path d="M288.04 1978.5V1973.30q0 -5.196 5.196 -5.196h19.408q5.196 0 5.196 5.196V1978.5z" fill="#1f77b4"/>
<path d="M326.80 1978.5V1973.30q0 -5.196 5.196 -5.196h19.408q5.196 0 5.196 5.196V1978.5z" fill="#1f77b4"/>
<path d="M365.56 1978.5V1973.30q0 -5.196 5.196 -5.196h19.408q5.196 0 5.196 5.196V1978.5z" fill="#1f77b4"/>
<path d="M404.32 1978.5V1963.72q0 -6 6 -6h17.8q6 0 6 6V1978.5z" fill="#1f77b4"/>
<path d="M443.08 1978.5V1963.72q0 -6 6 -6h17.8q6 0 6 6V1978.5z" fill="#1f77b4"/>
<path d="M481.84 1978.5V1849.40q0 -6 6 -6h17.8q6 0 6 6V1978.5z" fill="#1f77b4"/>
<path d="M520.60 1978.5V1839.01q0 -6 6 -6h17.8q6 0 6 6V1978.5z" fill="#1f77b4"/>
<path d="M559.36 1978.5V1600.00q0 -6 6 -6h17.8q6 0 6 6V1978.5z" fill="#1f77b4"/>
<path d="M598.12 1978.5V1610.39q0 -6 6 -6h17.8q6 0 6 6V1978.5z" fill="#1f77b4"/>
<path d="M636.88 1978.5V1454.51q0 -6 6 -6h17.8q6 0 6 6V1978.5z" fill="#1f77b4"/>
<path d="M675.64 1978.5V1641.56q0 -6 6 -6h17.8q6 0 6 6V1978.5z" fill="#1f77b4"/>
<path d="M714.40 1978.5V1641.56q0 -6 6 -6h17.8q6 0 6 6V1978.5z" fill="#1f77b4"/>
<path d="M753.16 1978.5V1818.23q0 -6 6 -6h17.8q6 0 6 6V1978.5z" fill="#1f77b4"/>
<path d="M791.92 1978.5V1901.36q0 -6 6 -6h17.8q6 0 6 6V1978.5z" fill="#1f77b4"/>
<path d="M830.68 1978.5V1963.72q0 -6 6 -6h17.8q6 0 6 6V1978.5z" fill="#1f77b4"/>
<path d="M869.44 1978.5V1953.32q0 -6 6 -6h17.8q6 0 6 6V1978.5z" fill="#1f77b4"/>
<path d="M908.20 1978.5V1973.30q0 -5.196 5.196 -5.196h19.408q5.196 0 5.196 5.196V1978.5z" fill="#1f77b4"/>
<path d="M1063.24 1978.5V1973.30q0 -5.196 5.196 -5.196h19.408q5.196 0 5.196 5.196V1978.5z" fill="#1f77b4"/>
<path d="M1102.00 1978.5V1973.30q0 -5.196 5.196 -5.196h19.408q5.196 0 5.196 5.196V1978.5z" fill="#1f77b4"/>
<path d="M1179.52 1978.5V1973.30q0 -5.196 5.196 -5.196h19.408q5.196 0 5.196 5.196V1978.5z" fill="#1f77b4"/>
<text transform="translate(81.15 1458.81) scale(1.0210 1)" font-size="33.00" font-weight="400" letter-spacing="0.298" fill="#8a8a8e" xml:space="preserve">51</text>
<text transform="translate(80.50 1531.55) scale(1.0210 1)" font-size="33.00" font-weight="400" letter-spacing="0.309" fill="#8a8a8e" xml:space="preserve">44</text>
<text transform="translate(80.98 1645.86) scale(1.0210 1)" font-size="33.00" font-weight="400" letter-spacing="0.300" fill="#8a8a8e" xml:space="preserve">33</text>
<text transform="translate(81.22 1760.18) scale(1.0210 1)" font-size="33.00" font-weight="400" letter-spacing="0.294" fill="#8a8a8e" xml:space="preserve">22</text>
<text transform="translate(83.67 1874.49) scale(1.0210 1)" font-size="33.00" font-weight="400" letter-spacing="0.266" fill="#8a8a8e" xml:space="preserve">11</text>
<text transform="translate(99.70 1988.80) scale(1.0210 1)" font-size="33.00" font-weight="400" letter-spacing="0.139" fill="#8a8a8e" xml:space="preserve">0</text>
<text transform="translate(127.37 2028.00) scale(1.1233 1)" font-size="33.00" font-weight="400" letter-spacing="0.847" fill="#8a8a8e" xml:space="preserve">-3.6</text>
<text transform="translate(638.60 2028.00) scale(1.0907 1)" font-size="33.00" font-weight="400" letter-spacing="0.736" fill="#8a8a8e" xml:space="preserve">0.14</text>
<text transform="translate(1171.16 2028.00) scale(1.0697 1)" font-size="33.00" font-weight="400" letter-spacing="0.603" fill="#8a8a8e" xml:space="preserve">3.8</text>
</svg>
</section>
<section class="card" style="top:2125.5px">
<h2 style="position:absolute;left:60.71px;top:19.50px;margin:0;font-size:51.30px;line-height:61px;font-weight:700;color:#8b179c;letter-spacing:-0.296px;white-space:pre;transform-origin:0 0;transform:scaleX(0.9723);text-shadow:0 3px 3.5px rgba(0,0,0,.24);">Returns vs Volatility</h2>
<div style="position:absolute;left:517.62px;top:88.50px;margin:0;font-size:35.00px;line-height:43px;font-weight:400;color:#8a8a8e;letter-spacing:0.484px;white-space:pre;transform-origin:0 0;transform:scaleX(1.0725);text-shadow:0 3px 3.5px rgba(0,0,0,.17);">Correlation</div>
<div style="position:absolute;left:534.78px;top:137.50px;margin:0;font-size:38.20px;line-height:47px;font-weight:700;color:#d62728;letter-spacing:0.707px;white-space:pre;transform-origin:0 0;transform:scaleX(1.0796);text-shadow:0 3px 3.5px rgba(0,0,0,.17);">R²=0.14</div>
<span class="dot" style="left:454.00px;top:191.00px;width:24px;height:24px;background:#d62728"></span>
<div style="position:absolute;left:483.37px;top:183.50px;margin:0;font-size:30.60px;line-height:38px;font-weight:400;color:#8a8a8e;letter-spacing:0.258px;white-space:pre;transform-origin:0 0;transform:scaleX(1.0478);text-shadow:0 3px 3.5px rgba(0,0,0,.17);">Returns vs Volatility</div>
<svg width="1224" height="873" viewBox="48 2125.5 1224 873" style="position:absolute;left:0;top:0;overflow:visible;filter:drop-shadow(0 3px 3px rgba(0,0,0,.25))" font-family="Liberation Sans, sans-serif">
<g stroke="#000" stroke-opacity=".11" stroke-width="3" stroke-dasharray="9 9" fill="none">
<line x1="208.5" y1="2461.5" x2="1218.5" y2="2461.5"/>
<line x1="208.5" y1="2586" x2="1218.5" y2="2586"/>
<line x1="208.5" y1="2710.5" x2="1218.5" y2="2710.5"/>
<line x1="208.5" y1="2835" x2="1218.5" y2="2835"/>
<line x1="396.5" y1="2400" x2="396.5" y2="2835"/>
<line x1="712.5" y1="2400" x2="712.5" y2="2835"/>
<line x1="1028.5" y1="2400" x2="1028.5" y2="2835"/>
</g>
<line x1="207.5" y1="2517" x2="1218" y2="2924.5" stroke="#d62728" stroke-opacity=".65" stroke-width="5" stroke-dasharray="15.5 8.5"/>
<g fill="#d62728" fill-opacity=".8">
<circle cx="263.5" cy="2425.3" r="9.2"/>
<circle cx="324.5" cy="2425.3" r="9.2"/>
<circle cx="352.5" cy="2425.3" r="9.2"/>
<circle cx="372.5" cy="2425.3" r="9.2"/>
<circle cx="413" cy="2425.3" r="9.2"/>
<circle cx="447" cy="2425.3" r="9.2"/>
<circle cx="474.5" cy="2425.3" r="9.2"/>
<circle cx="515.5" cy="2425.3" r="9.2"/>
<circle cx="535.5" cy="2425.3" r="9.2"/>
<circle cx="548.5" cy="2425.3" r="9.2"/>
<circle cx="574.75" cy="2425.3" r="9.2"/>
<circle cx="591.25" cy="2431.5" r="9.2"/>
<circle cx="732.75" cy="2438.25" r="9.2"/>
<circle cx="654.25" cy="2449" r="9.2"/>
<circle cx="653" cy="2453" r="9.2"/>
<circle cx="679.5" cy="2465.75" r="9.2"/>
<circle cx="654.25" cy="2473.25" r="9.2"/>
<circle cx="576" cy="2476.25" r="9.2"/>
<circle cx="639.25" cy="2487.25" r="9.2"/>
<circle cx="603.75" cy="2493.5" r="9.2"/>
<circle cx="727.5" cy="2490" r="9.2"/>
<circle cx="588.75" cy="2505.25" r="9.2"/>
<circle cx="667" cy="2507.5" r="9.2"/>
<circle cx="624" cy="2514.25" r="9.2"/>
<circle cx="524.25" cy="2516" r="9.2"/>
<circle cx="680.75" cy="2524.25" r="9.2"/>
<circle cx="654.25" cy="2551.25" r="9.2"/>
<circle cx="739" cy="2551.25" r="9.2"/>
<circle cx="712.5" cy="2575" r="9.2"/>
<circle cx="616.25" cy="2581.75" r="9.2"/>
<circle cx="712.5" cy="2619" r="9.2"/>
<circle cx="796" cy="2481.25" r="9.2"/>
<circle cx="811" cy="2514.25" r="9.2"/>
<circle cx="918.5" cy="2516.5" r="9.2"/>
<circle cx="861.5" cy="2539.75" r="9.2"/>
<circle cx="957.5" cy="2564.25" r="9.2"/>
<circle cx="928.5" cy="2570.75" r="9.2"/>
<circle cx="812.25" cy="2600.5" r="9.2"/>
<circle cx="918.5" cy="2642.5" r="9.2"/>
<circle cx="1075.25" cy="2536.25" r="9.2"/>
<circle cx="1104.25" cy="2568.5" r="9.2"/>
<circle cx="1195.25" cy="2551.75" r="9.2"/>
<circle cx="644.25" cy="2637" r="9.2"/>
<circle cx="673.25" cy="2638.25" r="9.2"/>
<circle cx="628" cy="2645" r="9.2"/>
<circle cx="721.25" cy="2647" r="9.2"/>
<circle cx="737.5" cy="2646.25" r="9.2"/>
<circle cx="592.5" cy="2654.25" r="9.2"/>
<circle cx="644.25" cy="2662.5" r="9.2"/>
<circle cx="609" cy="2670.75" r="9.2"/>
<circle cx="761.75" cy="2670.75" r="9.2"/>
<circle cx="658.25" cy="2673.75" r="9.2"/>
<circle cx="566.25" cy="2672" r="9.2"/>
<circle cx="571.25" cy="2680.75" r="9.2"/>
<circle cx="632.5" cy="2685" r="9.2"/>
<circle cx="622.5" cy="2688.75" r="9.2"/>
<circle cx="591.25" cy="2692.5" r="9.2"/>
<circle cx="590" cy="2694" r="9.2"/>
<circle cx="660" cy="2695.5" r="9.2"/>
<circle cx="667.5" cy="2694.5" r="9.2"/>
<circle cx="658.75" cy="2697.5" r="9.2"/>
<circle cx="591.25" cy="2709.5" r="9.2"/>
<circle cx="583.75" cy="2715" r="9.2"/>
<circle cx="637.5" cy="2712.5" r="9.2"/>
<circle cx="652.5" cy="2712.5" r="9.2"/>
<circle cx="680" cy="2711.25" r="9.2"/>
<circle cx="695" cy="2710" r="9.2"/>
<circle cx="713.75" cy="2713.75" r="9.2"/>
<circle cx="757.5" cy="2713.25" r="9.2"/>
<circle cx="771.25" cy="2715" r="9.2"/>
<circle cx="618.75" cy="2720" r="9.2"/>
<circle cx="617.5" cy="2721.25" r="9.2"/>
<circle cx="662.5" cy="2717.5" r="9.2"/>
<circle cx="671.25" cy="2722.5" r="9.2"/>
<circle cx="683.75" cy="2723.75" r="9.2"/>
<circle cx="722.5" cy="2727.5" r="9.2"/>
<circle cx="615" cy="2732.5" r="9.2"/>
<circle cx="637.5" cy="2727.5" r="9.2"/>
<circle cx="642.5" cy="2735" r="9.2"/>
<circle cx="693.75" cy="2735" r="9.2"/>
<circle cx="735" cy="2733.75" r="9.2"/>
<circle cx="660" cy="2740" r="9.2"/>
<circle cx="630" cy="2746.25" r="9.2"/>
<circle cx="681.25" cy="2746.25" r="9.2"/>
<circle cx="712.5" cy="2741.25" r="9.2"/>
<circle cx="726.25" cy="2750" r="9.2"/>
<circle cx="737.5" cy="2750" r="9.2"/>
<circle cx="755" cy="2755" r="9.2"/>
<circle cx="775" cy="2746.25" r="9.2"/>
<circle cx="636.25" cy="2760" r="9.2"/>
<circle cx="650" cy="2760" r="9.2"/>
<circle cx="672.5" cy="2760" r="9.2"/>
<circle cx="641.25" cy="2770" r="9.2"/>
<circle cx="658.75" cy="2770" r="9.2"/>
<circle cx="680" cy="2780" r="9.2"/>
<circle cx="768.75" cy="2768.75" r="9.2"/>
<circle cx="677.5" cy="2802.5" r="9.2"/>
<circle cx="702.5" cy="2822.5" r="9.2"/>
<circle cx="822.5" cy="2660.75" r="9.2"/>
<circle cx="830" cy="2687.5" r="9.2"/>
<circle cx="791.25" cy="2696.25" r="9.2"/>
<circle cx="792" cy="2718.75" r="9.2"/>
<circle cx="837.5" cy="2732" r="9.2"/>
<circle cx="866.75" cy="2753" r="9.2"/>
<circle cx="778" cy="2745" r="9.2"/>
<circle cx="779.5" cy="2751.25" r="9.2"/>
<circle cx="808.75" cy="2752" r="9.2"/>
<circle cx="823.75" cy="2760" r="9.2"/>
<circle cx="768.75" cy="2760" r="9.2"/>
<circle cx="811.25" cy="2767" r="9.2"/>
<circle cx="830" cy="2769.5" r="9.2"/>
<circle cx="792.5" cy="2770" r="9.2"/>
<circle cx="770" cy="2768.75" r="9.2"/>
<circle cx="793.75" cy="2777.5" r="9.2"/>
<circle cx="800" cy="2788.75" r="9.2"/>
<circle cx="825" cy="2787.5" r="9.2"/>
<circle cx="843.75" cy="2787.5" r="9.2"/>
<circle cx="838.75" cy="2795" r="9.2"/>
<circle cx="772.5" cy="2790" r="9.2"/>
<circle cx="777.5" cy="2802.5" r="9.2"/>
<circle cx="762.5" cy="2802.5" r="9.2"/>
<circle cx="816.25" cy="2804.25" r="9.2"/>
<circle cx="796.25" cy="2812.5" r="9.2"/>
<circle cx="812.5" cy="2815" r="9.2"/>
<circle cx="827.5" cy="2822.5" r="9.2"/>
<circle cx="810" cy="2822.5" r="9.2"/>
<circle cx="800" cy="2822.5" r="9.2"/>
<circle cx="792.5" cy="2822.5" r="9.2"/>
<circle cx="773.75" cy="2822.5" r="9.2"/>
<circle cx="766.25" cy="2822.5" r="9.2"/>
<circle cx="755" cy="2822.5" r="9.2"/>
<circle cx="741.25" cy="2822.5" r="9.2"/>
<circle cx="728.75" cy="2822.5" r="9.2"/>
<circle cx="853.75" cy="2822.5" r="9.2"/>
<circle cx="888" cy="2822.5" r="9.2"/>
<circle cx="716" cy="2822.5" r="9.2"/>
<circle cx="722" cy="2822.5" r="9.2"/>
<circle cx="860" cy="2817.5" r="9.2"/>
<circle cx="633.2" cy="2722.9" r="9.2"/>
<circle cx="661.6" cy="2717.2" r="9.2"/>
<circle cx="651.6" cy="2738.3" r="9.2"/>
<circle cx="641.9" cy="2771.5" r="9.2"/>
<circle cx="615.8" cy="2728.1" r="9.2"/>
<circle cx="655.2" cy="2740.6" r="9.2"/>
<circle cx="679.7" cy="2732.9" r="9.2"/>
<circle cx="660.6" cy="2738.8" r="9.2"/>
<circle cx="652.7" cy="2716.5" r="9.2"/>
<circle cx="664.2" cy="2742.8" r="9.2"/>
<circle cx="632.3" cy="2754.2" r="9.2"/>
<circle cx="644.4" cy="2733.6" r="9.2"/>
<circle cx="674.1" cy="2762.3" r="9.2"/>
<circle cx="626.2" cy="2753.4" r="9.2"/>
<circle cx="650.7" cy="2775.0" r="9.2"/>
<circle cx="668.5" cy="2732.7" r="9.2"/>
<circle cx="641.4" cy="2766.5" r="9.2"/>
<circle cx="618.2" cy="2747.2" r="9.2"/>
<circle cx="671.5" cy="2753.3" r="9.2"/>
<circle cx="681.2" cy="2734.6" r="9.2"/>
<circle cx="665.5" cy="2754.8" r="9.2"/>
<circle cx="655.5" cy="2744.8" r="9.2"/>
<circle cx="646.2" cy="2759.8" r="9.2"/>
<circle cx="676.5" cy="2732.5" r="9.2"/>
<circle cx="638.6" cy="2760.1" r="9.2"/>
<circle cx="616.3" cy="2729.8" r="9.2"/>
<circle cx="777.3" cy="2807.4" r="9.2"/>
<circle cx="761.2" cy="2782.5" r="9.2"/>
<circle cx="785.6" cy="2808.1" r="9.2"/>
<circle cx="799.6" cy="2807.0" r="9.2"/>
<circle cx="771.5" cy="2780.5" r="9.2"/>
<circle cx="775.7" cy="2808.2" r="9.2"/>
<circle cx="766.2" cy="2769.7" r="9.2"/>
<circle cx="769.1" cy="2784.6" r="9.2"/>
<circle cx="787.6" cy="2771.5" r="9.2"/>
<circle cx="757.2" cy="2780.7" r="9.2"/>
<circle cx="711.7" cy="2785.3" r="9.2"/>
<circle cx="732.2" cy="2789.7" r="9.2"/>
<circle cx="714.9" cy="2770.7" r="9.2"/>
<circle cx="689.2" cy="2750.1" r="9.2"/>
<circle cx="707.6" cy="2740.6" r="9.2"/>
<circle cx="674.2" cy="2767.6" r="9.2"/>
<circle cx="746.0" cy="2748.9" r="9.2"/>
<circle cx="695.3" cy="2766.2" r="9.2"/>
<circle cx="711.0" cy="2746.7" r="9.2"/>
<circle cx="725.2" cy="2778.1" r="9.2"/>
<circle cx="708.0" cy="2759.0" r="9.2"/>
<circle cx="734.0" cy="2748.8" r="9.2"/>
<circle cx="733.9" cy="2821.1" r="9.2"/>
<circle cx="696.6" cy="2767.9" r="9.2"/>
<circle cx="683.4" cy="2803.2" r="9.2"/>
<circle cx="734.6" cy="2803.8" r="9.2"/>
<circle cx="706.2" cy="2755.4" r="9.2"/>
<circle cx="773.6" cy="2821.7" r="9.2"/>
<circle cx="774.6" cy="2800.4" r="9.2"/>
<circle cx="691.7" cy="2781.0" r="9.2"/>
<circle cx="696.3" cy="2796.2" r="9.2"/>
<circle cx="690.9" cy="2755.7" r="9.2"/>
<circle cx="687.5" cy="2753.8" r="9.2"/>
<circle cx="747.4" cy="2814.3" r="9.2"/>
<circle cx="765.0" cy="2777.6" r="9.2"/>
<circle cx="685.0" cy="2804.7" r="9.2"/>
<circle cx="706.6" cy="2805.7" r="9.2"/>
<circle cx="716.2" cy="2818.4" r="9.2"/>
<circle cx="677.8" cy="2749.2" r="9.2"/>
<circle cx="709.1" cy="2783.7" r="9.2"/>
<circle cx="733.7" cy="2817.2" r="9.2"/>
<circle cx="720.7" cy="2811.8" r="9.2"/>
<circle cx="695.3" cy="2761.5" r="9.2"/>
<circle cx="693.7" cy="2787.0" r="9.2"/>
<circle cx="696.3" cy="2772.5" r="9.2"/>
<circle cx="709.5" cy="2775.9" r="9.2"/>
<circle cx="741.7" cy="2814.7" r="9.2"/>
<circle cx="718.9" cy="2815.8" r="9.2"/>
<circle cx="730.2" cy="2782.3" r="9.2"/>
<circle cx="721.6" cy="2751.9" r="9.2"/>
<circle cx="684.1" cy="2777.2" r="9.2"/>
<circle cx="761.5" cy="2784.4" r="9.2"/>
<circle cx="705.6" cy="2781.1" r="9.2"/>
<circle cx="737.8" cy="2804.2" r="9.2"/>
<circle cx="674.9" cy="2784.7" r="9.2"/>
<circle cx="694.8" cy="2760.1" r="9.2"/>
<circle cx="768.1" cy="2780.2" r="9.2"/>
<circle cx="738.6" cy="2802.1" r="9.2"/>
<circle cx="745.8" cy="2780.0" r="9.2"/>
<circle cx="731.7" cy="2796.3" r="9.2"/>
<circle cx="723.3" cy="2782.4" r="9.2"/>
<circle cx="726.9" cy="2817.9" r="9.2"/>
<circle cx="757.9" cy="2812.3" r="9.2"/>
<circle cx="738.3" cy="2818.1" r="9.2"/>
<circle cx="677.0" cy="2774.5" r="9.2"/>
<circle cx="670.2" cy="2756.9" r="9.2"/>
<circle cx="769.8" cy="2814.0" r="9.2"/>
<circle cx="681.6" cy="2798.3" r="9.2"/>
<circle cx="715.8" cy="2778.4" r="9.2"/>
<circle cx="682.6" cy="2773.5" r="9.2"/>
<circle cx="732.2" cy="2765.5" r="9.2"/>
<circle cx="687.4" cy="2763.7" r="9.2"/>
<circle cx="737.6" cy="2774.3" r="9.2"/>
<circle cx="747.3" cy="2780.6" r="9.2"/>
<circle cx="770.4" cy="2820.5" r="9.2"/>
<circle cx="674.7" cy="2759.1" r="9.2"/>
<circle cx="697.9" cy="2747.3" r="9.2"/>
<circle cx="719.1" cy="2815.3" r="9.2"/>
<circle cx="739.9" cy="2796.9" r="9.2"/>
<circle cx="756.3" cy="2773.0" r="9.2"/>
<circle cx="723.5" cy="2765.5" r="9.2"/>
<circle cx="737.4" cy="2816.6" r="9.2"/>
<circle cx="697.5" cy="2747.2" r="9.2"/>
<circle cx="733.8" cy="2756.7" r="9.2"/>
<circle cx="675.3" cy="2750.0" r="9.2"/>
<circle cx="667.1" cy="2753.6" r="9.2"/>
<circle cx="703.7" cy="2762.5" r="9.2"/>
<circle cx="766.3" cy="2761.2" r="9.2"/>
<circle cx="730.0" cy="2751.5" r="9.2"/>
<circle cx="762.6" cy="2783.9" r="9.2"/>
<circle cx="686.5" cy="2777.3" r="9.2"/>
<circle cx="774.6" cy="2773.6" r="9.2"/>
<circle cx="729.3" cy="2808.6" r="9.2"/>
<circle cx="715.0" cy="2780.1" r="9.2"/>
<circle cx="756.3" cy="2821.5" r="9.2"/>
<circle cx="708.0" cy="2808.4" r="9.2"/>
<circle cx="758.9" cy="2791.3" r="9.2"/>
</g>
<text transform="translate(166.74 2472.50) scale(1.0420 1)" font-size="33.00" font-weight="400" letter-spacing="0.600" fill="#8a8a8e" xml:space="preserve">40</text>
<text transform="translate(166.75 2597.00) scale(1.0420 1)" font-size="33.00" font-weight="400" letter-spacing="0.591" fill="#8a8a8e" xml:space="preserve">30</text>
<text transform="translate(166.76 2721.50) scale(1.0420 1)" font-size="33.00" font-weight="400" letter-spacing="0.584" fill="#8a8a8e" xml:space="preserve">20</text>
<text transform="translate(166.78 2846.00) scale(1.0420 1)" font-size="33.00" font-weight="400" letter-spacing="0.569" fill="#8a8a8e" xml:space="preserve">10</text>
<text transform="translate(363.36 2895.40) scale(1.1288 1)" font-size="33.00" font-weight="400" letter-spacing="0.881" fill="#8a8a8e" xml:space="preserve">-2.5</text>
<text transform="translate(702.87 2895.40) scale(1.0350 1)" font-size="33.00" font-weight="400" letter-spacing="0.229" fill="#8a8a8e" xml:space="preserve">0</text>
<text transform="translate(1004.25 2895.40) scale(1.0593 1)" font-size="33.00" font-weight="400" letter-spacing="0.514" fill="#8a8a8e" xml:space="preserve">2.5</text>
<text transform="translate(617.19 2959.30) scale(1.0366 1)" font-size="33.00" font-weight="400" letter-spacing="0.243" fill="#8a8a8e" xml:space="preserve">Daily Return</text>
<text transform="translate(127.3 2690) rotate(-90) scale(0.9920 1)" font-size="34.00" font-weight="400" letter-spacing="-0.062" fill="#8a8a8e" xml:space="preserve">VIX Level</text>
</svg>
</section>
</main>
</body></html>
